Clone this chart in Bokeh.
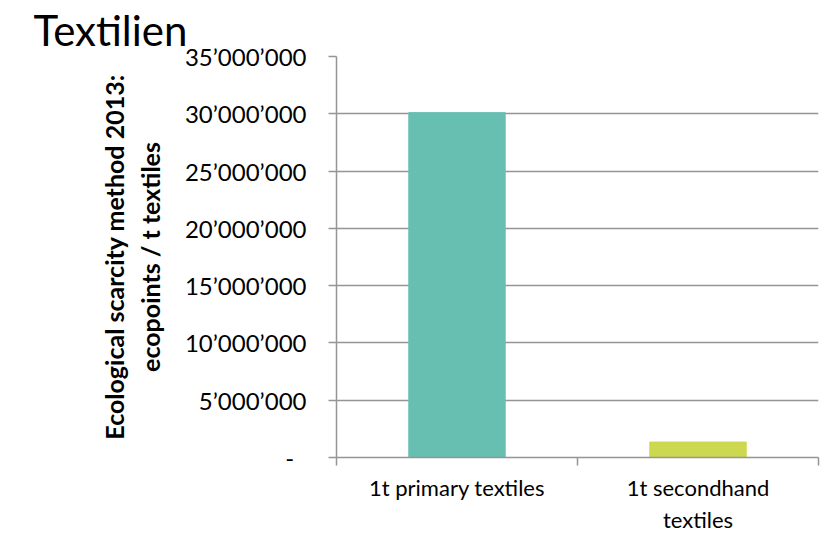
from bokeh.plotting import figure
from bokeh.models import ColumnDataSource, FixedTicker, Range1d, Title
from bokeh.embed import file_html
from bokeh.resources import INLINE

categories = ["1t primary textiles", "1t secondhand\ntextiles"]
values = [30100000, 1350000]
colors = ["#67BFB2", "#CCD84F"]
y_ticks = [0, 5000000, 10000000, 15000000, 20000000, 25000000, 30000000, 35000000]
y_tick_labels = ["-\u00a0\u00a0", "5’000’000", "10’000’000", "15’000’000", "20’000’000",
                 "25’000’000", "30’000’000", "35’000’000"]
title_text = "Textilien"
y_label = "Ecological scarcity method 2013:\necopoints / t textiles"

FONT = "Lato"
xpos = [i + 0.5 for i in range(len(categories))]
src = ColumnDataSource(dict(x=xpos, top=values, color=colors))

p = figure(width=820, height=537, output_backend="svg", toolbar_location=None,
           x_range=Range1d(0, len(categories)), y_range=Range1d(0, 35000000),
           min_border_left=336, min_border_right=2, min_border_top=55, min_border_bottom=80)
p.outline_line_color = None
p.background_fill_color = "white"
p.border_fill_color = "white"

p.vbar(x="x", top="top", width=0.4, bottom=0, color="color", source=src)

# y axis
p.yaxis.ticker = FixedTicker(ticks=y_ticks, minor_ticks=[])
p.yaxis.major_label_overrides = {t: l for t, l in zip(y_ticks, y_tick_labels)}
p.yaxis.axis_line_color = "#959595"
p.yaxis.axis_line_width = 1.5
p.yaxis.major_tick_line_color = "#959595"
p.yaxis.major_tick_line_width = 1.5
p.yaxis.major_tick_out = 8
p.yaxis.major_tick_in = 0
p.yaxis.minor_tick_line_color = None
p.yaxis.major_label_text_font = FONT
p.yaxis.major_label_text_font_size = "24px"
p.yaxis.major_label_text_color = "black"
p.yaxis.major_label_standoff = 22
p.yaxis.axis_label = y_label
p.yaxis.axis_label_text_font = FONT
p.yaxis.axis_label_text_font_style = "bold"
p.yaxis.axis_label_text_font_size = "25px"
p.yaxis.axis_label_text_color = "black"
p.yaxis.axis_label_standoff = 17

# x axis with boundary ticks
p.xaxis.ticker = FixedTicker(ticks=xpos, minor_ticks=list(range(len(categories) + 1)))
p.xaxis.major_label_overrides = {x: c for x, c in zip(xpos, categories)}
p.xaxis.major_tick_line_color = None
p.xaxis.minor_tick_line_color = "#959595"
p.xaxis.minor_tick_line_width = 1.5
p.xaxis.minor_tick_out = 8
p.xaxis.minor_tick_in = 0
p.xaxis.axis_line_color = "#959595"
p.xaxis.axis_line_width = 1.5
p.xaxis.major_label_text_font = FONT
p.xaxis.major_label_text_font_size = "22px"
p.xaxis.major_label_text_color = "black"
p.xaxis.major_label_standoff = 8

p.xgrid.grid_line_color = None
p.ygrid.ticker = FixedTicker(ticks=y_ticks)
p.ygrid.grid_line_color = "#959595"
p.ygrid.grid_line_width = 1.5

p.add_layout(Title(text=title_text, align="left", offset=-303, standoff=4,
                   text_font=FONT, text_font_size="42px", text_color="black",
                   text_font_style="normal"), "above")

open("out.html", "w").write(file_html(p, INLINE))
